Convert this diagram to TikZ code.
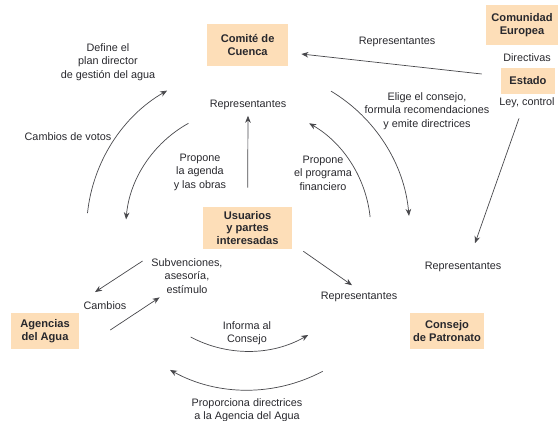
\documentclass[tikz,border=0pt]{standalone}
\usepackage{fontspec}
\setmainfont{Liberation Sans}
\usetikzlibrary{arrows.meta, positioning, calc}
\definecolor{agPeach}{RGB}{253,222,184}
\definecolor{agInk}{RGB}{40,40,45}
\tikzset{
  orgbox/.style={rectangle, fill=agPeach, draw=none, align=center, text=agInk,
    font=\fontsize{7.9}{9.2}\selectfont\bfseries, inner sep=2pt},
  lbl/.style={align=center, text=agInk, font=\fontsize{7.7}{9.6}\selectfont, inner sep=2.6pt},
  arrow/.style={-{Stealth[length=5pt, width=4pt]}, line width=0.5pt, color=agInk!85},
}

\begin{document}
\begin{tikzpicture}

\useasboundingbox (0,0) rectangle (13.95,-10.5);

%% ORGANISMS
\node[orgbox, minimum width=2.025cm, minimum height=1.05cm] (comite) at (6.19, -1.125)
  {Comité de\\Cuenca};
\node[orgbox, minimum width=1.8cm, minimum height=1.0cm] (ue) at (13.05, -0.625)
  {Comunidad\\Europea};
\node[orgbox, minimum width=1.35cm, minimum height=0.65cm] (estado) at (13.2, -2.025)
  {Estado};
\node[orgbox, minimum width=2.225cm, minimum height=1.05cm] (usuarios) at (6.19, -5.7)
  {Usuarios\\y partes\\interesadas};
\node[orgbox, minimum width=1.7cm, minimum height=0.9cm] (agencias) at (1.125, -8.275)
  {Agencias\\del Agua};
\node[orgbox, minimum width=1.75cm, minimum height=0.9cm] (consejo) at (11.175, -8.275)
  {Consejo\\de Patronato};

%% LABELS
\node[lbl] (directivas) at (13.175, -1.45)  {Directivas};
\node[lbl] (ley)        at (13.175, -2.575) {Ley, control};
\node[lbl] (rep_ue)     at (9.925, -1.05)   {Representantes};
\node[lbl] (elige)      at (10.675, -2.775)
  {Elige el consejo,\\formula recomendaciones\\y emite directrices};
\node[lbl] (define)     at (2.7, -1.55)
  {Define el\\plan director\\de gestión del agua};
\node[lbl] (votos)      at (1.7, -3.425)    {Cambios de votos};
\node[lbl] (rep_top)    at (6.2, -2.625)    {Representantes};
\node[lbl] (agenda)     at (5.0, -4.3)      {Propone\\la agenda\\y las obras};
\node[lbl] (programa)   at (8.075, -4.325)  {Propone\\el programa\\financiero};
\node[lbl] (subv)       at (4.675, -6.9)    {Subvenciones,\\asesoría,\\estímulo};
\node[lbl] (cambios)    at (2.625, -7.65)   {Cambios};
\node[lbl] (rep_right)  at (11.575, -6.675) {Representantes};
\node[lbl] (rep_mid)    at (8.975, -7.425)  {Representantes};
\node[lbl] (informa)    at (6.175, -8.325)  {Informa al\\Consejo};
\node[lbl] (proporciona) at (6.175, -10.25)
  {Proporciona directrices\\a la Agencia del Agua};

%% STRAIGHT ARROWS
\draw[arrow] ([shift={(-0.475,0.175)}]estado.west) -- ([shift={(0.325,-0.225)}]comite.east);
\draw[arrow, shorten <=0.475cm, shorten >=0.05cm] (usuarios.north) -- (rep_top.south);
\draw[arrow] ([shift={(-0.2,-0.16)}]ley.south) -- ([shift={(0.3,0.375)}]rep_right.north);
\draw[arrow] ([shift={(0.275,-0.05)}]usuarios.south east) -- ([shift={(-0.175,0.075)}]rep_mid.north);
\draw[arrow] ([shift={(-0.125,0.375)}]subv.west) -- ([shift={(-0.25,0.15)}]cambios.north);
\draw[arrow] ([shift={(0.775,0.025)}]agencias.east) -- ([shift={(0.3,0)}]subv.south west);

%% CIRCULAR ARROWS round the users
\coordinate (hub) at ([yshift=-0.05cm]usuarios.center);
\draw[arrow] ([shift={(174:4.025)}]hub) arc[start angle=174, end angle=120, radius=4.025];
\draw[arrow] ([shift={(119:3.05)}]hub)  arc[start angle=119, end angle=175, radius=3.05];
\draw[arrow] ([shift={(6:3.08)}]hub)    arc[start angle=6,   end angle=60,  radius=3.08];
\draw[arrow] ([shift={(59:4.05)}]hub)   arc[start angle=59,  end angle=5,   radius=4.05];
\draw[arrow] ([shift={(242:3.03)}]hub)  arc[start angle=242, end angle=300, radius=3.03];
\draw[arrow] ([shift={(298:4.0)}]hub)   arc[start angle=298, end angle=241, radius=4.0];

\end{tikzpicture}
\end{document}
